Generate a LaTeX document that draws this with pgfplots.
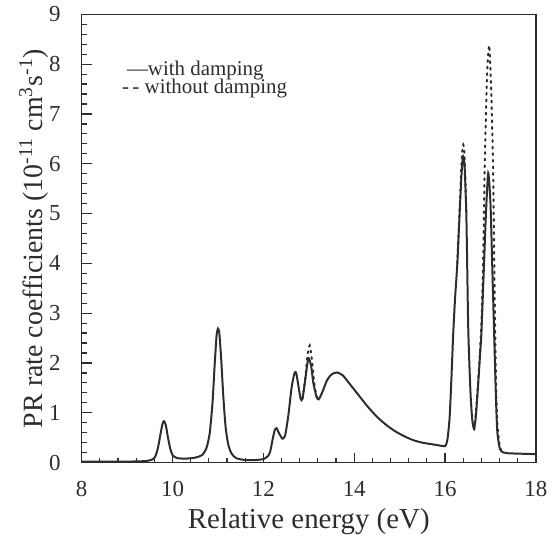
\documentclass[border=0pt]{standalone}
\usepackage{pgfplots}
\pgfplotsset{compat=1.18}
\usepackage{fontspec}
\setmainfont{Liberation Serif}
\definecolor{ink}{RGB}{45,45,45}

\begin{document}
\begin{tikzpicture}
\begin{axis}[
    scale only axis,
    width=228pt, height=225pt,
    xmin=8, xmax=18, ymin=0, ymax=9,
    xtick={8,10,...,18}, ytick={0,1,...,9},
    minor x tick num=4, minor y tick num=4,
    xtick pos=bottom, ytick pos=left,
    tick align=inside,
    major tick length=5pt, minor tick length=2.5pt,
    axis line style={ink, line width=0.7pt},
    tick style={ink, line width=0.6pt},
    /pgf/number format/assume math mode=true,
    ticklabel style={font=\fontsize{11.5}{13}\selectfont, text=ink},
    xticklabel style={yshift=-6pt},
    yticklabel style={xshift=-7pt},
    every axis x label/.style={at={(rel axis cs:0.5,0)}, yshift=-29.5pt, anchor=center,
        font=\fontsize{14.5}{16}\selectfont, text=ink},
    every axis y label/.style={at={(rel axis cs:0,0.5)}, xshift=-24pt, rotate=90, anchor=center,
        font=\fontsize{14}{16}\selectfont, text=ink},
    xlabel={Relative energy (eV)},
    ylabel={PR rate coefficients (10\textsuperscript{-11} cm\textsuperscript{3}s\textsuperscript{-1})},
    clip=true,
]
% without damping (dotted)
\addplot[ink, line width=1pt, dash pattern=on 0.9pt off 2.4pt, line cap=round, smooth, tension=0.4] coordinates {
    (12.86,1.28) (12.92,1.68) (12.97,2.15) (13.02,2.35) (13.07,2.05) (13.12,1.6) (13.17,1.33) (13.22,1.27)
};
\addplot[ink, line width=1pt, dash pattern=on 0.9pt off 2.4pt, line cap=round, smooth, tension=0.4] coordinates {
    (16.27,4.0) (16.33,5.3) (16.37,6.15) (16.40,6.38) (16.43,6.15) (16.47,4.95)
};
\addplot[ink, line width=1pt, dash pattern=on 0.9pt off 2.4pt, line cap=round, smooth, tension=0.4] coordinates {
    (16.64,0.66) (16.70,1.25) (16.75,1.95) (16.80,2.8) (16.84,4.1) (16.87,5.8)
    (16.90,7.0) (16.93,7.9) (16.97,8.38) (17.00,7.9) (17.03,7.0) (17.06,5.8)
    (17.09,3.5) (17.12,1.7) (17.15,0.8) (17.20,0.35) (17.25,0.22)
};
% with damping (solid)
\addplot[ink, line width=1pt, smooth, tension=0.4] coordinates {
    (8.00,0.02) (8.50,0.02) (9.00,0.02) (9.40,0.03) (9.55,0.06) (9.62,0.12)
    (9.68,0.30) (9.73,0.55) (9.78,0.78) (9.81,0.83) (9.85,0.76) (9.90,0.50)
    (9.95,0.28) (10.00,0.15) (10.10,0.09) (10.30,0.08) (10.50,0.10) (10.65,0.15)
    (10.75,0.30) (10.82,0.60) (10.88,1.20) (10.93,2.00) (10.97,2.55) (11.00,2.69)
    (11.03,2.60) (11.07,2.10) (11.12,1.30) (11.17,0.70) (11.23,0.35) (11.30,0.18)
    (11.40,0.09) (11.60,0.05) (11.80,0.05) (12.00,0.07) (12.10,0.13) (12.15,0.22)
    (12.20,0.45) (12.25,0.65) (12.29,0.69) (12.35,0.58) (12.42,0.48) (12.48,0.55)
    (12.55,0.95) (12.62,1.50) (12.68,1.78) (12.72,1.81) (12.77,1.55) (12.82,1.28)
    (12.86,1.28) (12.92,1.65) (12.97,2.00) (13.00,2.09) (13.05,1.95) (13.10,1.60)
    (13.17,1.32) (13.22,1.27) (13.30,1.42) (13.40,1.65) (13.50,1.77) (13.62,1.81)
    (13.75,1.75) (13.90,1.58) (14.10,1.35) (14.30,1.12) (14.50,0.92) (14.70,0.76)
    (14.90,0.63) (15.10,0.53) (15.30,0.45) (15.50,0.40) (15.70,0.37) (15.90,0.34)
    (16.00,0.33) (16.05,0.45) (16.10,0.90) (16.14,1.70) (16.18,2.60) (16.22,3.30)
    (16.27,4.00) (16.33,5.20) (16.37,5.90) (16.40,6.15) (16.43,5.95) (16.47,4.90)
    (16.51,2.70) (16.56,1.40) (16.60,0.85) (16.64,0.68) (16.68,0.95) (16.73,1.60)
    (16.78,2.30) (16.80,2.60) (16.85,3.80) (16.90,5.00) (16.95,5.81) (17.00,5.20)
    (17.04,3.90) (17.08,2.60) (17.12,1.30) (17.15,0.62) (17.20,0.30) (17.25,0.22)
    (17.35,0.19) (17.60,0.18) (18.00,0.17)
};
\node[anchor=west, ink, font=\fontsize{10.5}{12}\selectfont, inner sep=0pt] at (axis cs:8.99,7.88) {\textemdash with damping};
\node[anchor=west, ink, font=\fontsize{10.5}{12}\selectfont, inner sep=0pt] at (axis cs:8.88,7.52) {-\,- without damping};
\end{axis}
\path (current axis.south west) +(-41pt,-39pt) rectangle ([shift={(8pt,7pt)}]current axis.north east);
\end{tikzpicture}
\end{document}
